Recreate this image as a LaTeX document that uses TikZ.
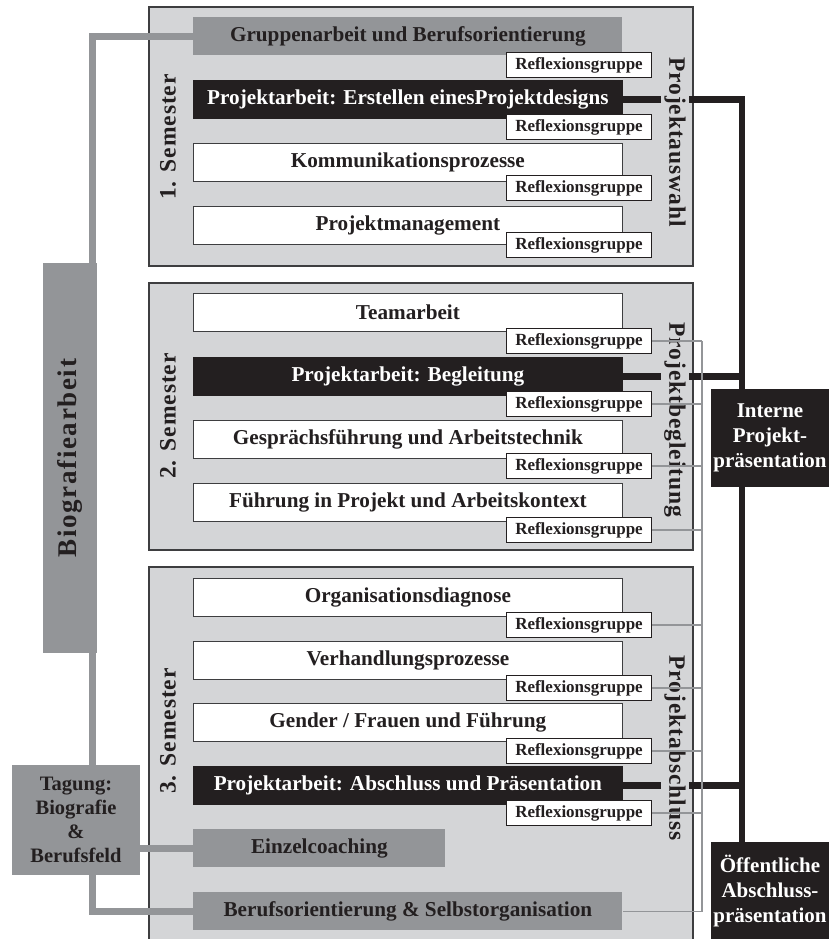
\documentclass[tikz,border=0pt]{standalone}
\usepackage{fontspec}
\setmainfont{Liberation Serif}
\definecolor{semgrau}{RGB}{212,213,215}
\definecolor{mittelgrau}{RGB}{147,149,152}
\definecolor{schwarzton}{RGB}{35,31,32}
\definecolor{rahmen}{RGB}{62,62,64}
\newcommand{\kursfont}{\bfseries\fontsize{21.2}{24}\selectfont}
\newcommand{\seitenfont}{\bfseries\fontsize{23.5}{24}\selectfont\addfontfeature{LetterSpace=4}}

\begin{document}
\begin{tikzpicture}[x=1pt,y=-1pt,
        semester/.style={draw=rahmen,line width=1.4pt,fill=semgrau},
        kurs/.style={draw=rahmen,line width=0.8pt,fill=white,text=schwarzton,
            minimum width=429pt,minimum height=38pt,inner sep=0pt,anchor=north west,font=\kursfont},
        projekt/.style={kurs,draw=schwarzton,fill=schwarzton,text=white},
        grau/.style={kurs,draw=none,fill=mittelgrau},
        refl/.style={draw=schwarzton,line width=1pt,fill=white,text=schwarzton,
            minimum width=145pt,minimum height=25pt,inner sep=0pt,anchor=north west,
            font=\bfseries\fontsize{17}{18}\selectfont},
        seitel/.style={rotate=90,text=schwarzton,font=\seitenfont},
        seiter/.style={rotate=-90,text=schwarzton,fill=semgrau,inner xsep=0pt,inner ysep=3pt,font=\seitenfont},
        praes/.style={fill=schwarzton,text=white,align=center,minimum width=118pt,minimum height=98pt,
            inner sep=0pt,font=\bfseries\fontsize{21}{25}\selectfont},
        dick/.style={mittelgrau,line width=7pt},
        duenn/.style={mittelgrau,line width=1.8pt},
        balken/.style={schwarzton,line width=6.5pt}
    ]
    \useasboundingbox (0,0) rectangle (828,939);
    % Semester
    \draw[semester] (149,7) rectangle (693,266);
    \draw[semester] (149,283) rectangle (693,550);
    \draw[semester] (149,567) rectangle (693,960);

    % 1. Semester
    \node[grau] (g1) at (193,17) {Gruppenarbeit und Berufsorientierung};
    \node[projekt] (p1) at (193,80) {Projektarbeit: Erstellen einesProjektdesigns};
    \node[kurs] (k12) at (193,143) {Kommunikationsprozesse};
    \node[kurs] (k13) at (193,206) {Projektmanagement};
    % 2. Semester
    \node[kurs] (k21) at (193,293) {Teamarbeit};
    \node[projekt] (p2) at (193,357) {Projektarbeit: Begleitung};
    \node[kurs] (k23) at (193,420) {Gesprächsführung und Arbeitstechnik};
    \node[kurs] (k24) at (193,483) {Führung in Projekt und Arbeitskontext};
    % 3. Semester
    \node[kurs] (k31) at (193,578) {Organisationsdiagnose};
    \node[kurs] (k32) at (193,641) {Verhandlungsprozesse};
    \node[kurs] (k33) at (193,703) {Gender / Frauen und Führung};
    \node[projekt] (p3) at (193,766) {Projektarbeit: Abschluss und Präsentation};
    \node[grau,minimum width=252pt] (ez) at (193,829) {Einzelcoaching};
    \node[grau] (bo) at (193,892) {Berufsorientierung \& Selbstorganisation};

    \foreach \y [count=\i] in {52,114,175,232,328,391,453,517,612,675,738,800}
        \node[refl] (r\i) at (506,\y) {Reflexionsgruppe};

    % links
    \node[fill=mittelgrau,minimum width=54pt,minimum height=390pt] (bio) at (70,458) {};
    \node[rotate=90,text=schwarzton,font=\bfseries\fontsize{27}{27}\selectfont\addfontfeature{LetterSpace=6}]
        (biotext) at (bio.center) {Biografiearbeit};
    \node[fill=mittelgrau,text=schwarzton,align=center,minimum width=128pt,minimum height=110pt,
        inner sep=0pt,font=\bfseries\fontsize{20.5}{24}\selectfont] (tag) at (76,820)
        {Tagung:\\Biografie\\\&\\Berufsfeld};

    % rechts
    \node[praes] (intern) at (770,438) {Interne\\Projekt-\\präsentation};
    \node[praes] (oeff) at (770,891) {Öffentliche\\Abschluss-\\präsentation};

    \coordinate (knick) at (92.5,0);
    \coordinate (achse) at (742,0);
    \coordinate (rechts) at (702,0);

    \draw[dick] (g1.west) -- (g1.west -| knick) -- (knick |- bio.north);
    \draw[dick] (knick |- bio.south) -- (knick |- tag.north);
    \draw[dick] (ez.west -| tag.east) -- (ez.west);
    \draw[dick] (knick |- tag.south) -- (knick |- bo.west) -- (bo.west);

    \draw[balken] (p1.east) -- (p1.east -| achse) -- (achse |- intern.north);
    \draw[balken] (p2.east) -- (p2.east -| achse);
    \draw[balken] (achse |- intern.south) -- (achse |- oeff.north);
    \draw[balken] (p3.east) -- (p3.east -| achse);

    \node[seitel] (s1) at (168,137) {1. Semester};
    \node[seitel] (s2) at (168,416) {2. Semester};
    \node[seitel] (s3) at (168,731) {3. Semester};
    \node[seiter] (l1) at (675,142) {Projektauswahl};
    \node[seiter] (l2) at (675,420) {Projektbegleitung};
    \node[seiter] (l3) at (675,748) {Projektabschluss};

    \foreach \i in {5,...,12}
        \draw[duenn] (r\i.east) -- (r\i.east -| rechts);
    \draw[duenn] (r5.east -| rechts) -- (bo.east -| rechts) -- (bo.east);
\end{tikzpicture}
\end{document}
